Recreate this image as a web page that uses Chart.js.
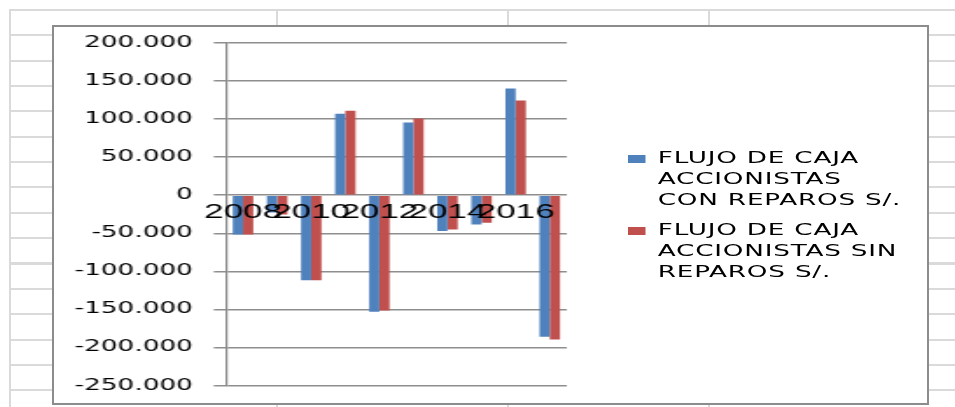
<!DOCTYPE html>
<html>
<head>
<meta charset="utf-8">
<script src="https://cdn.jsdelivr.net/npm/chart.js@4"></script>
<style>
  body { margin: 0; width: 955px; height: 407px; position: relative; overflow: hidden; background: #fff; }
  #sheet {
    position: absolute; left: 9px; top: 9px; right: 0; bottom: 0;
    background: repeating-linear-gradient(to bottom, #dadada 0 2px, transparent 2px 25.35px);
  }
  .col { position: absolute; top: 9px; bottom: 0; width: 2px; background: #dadada; }
  #frame {
    position: absolute; left: 52px; top: 25px; width: 877px; height: 380px;
    border: 2px solid #8c8c8c; box-sizing: border-box; background: #fff; overflow: hidden;
  }
  #stretch {
    position: absolute; left: 0; top: 0; width: 499px; height: 376px;
    transform: scaleX(1.75); transform-origin: 0 0;
  }
  #legend {
    position: absolute; left: 328px; top: 121px;
    font: 15px 'DejaVu Sans'; line-height: 21px; letter-spacing: 0.45px;
    color: #000; white-space: nowrap;
  }
  .item { position: relative; padding-left: 17px; margin-bottom: 9px; }
  .swatch { position: absolute; left: 0; top: 6.5px; width: 10px; height: 8px; }
</style>
</head>
<body>
<div id="sheet"></div>
<div class="col" style="left:9px"></div>
<div class="col" style="left:276px"></div>
<div class="col" style="left:507px"></div>
<div class="col" style="left:708px"></div>

<div id="frame">
  <div id="stretch">
    <canvas id="chart" width="499" height="376"></canvas>
    <div id="legend"></div>
  </div>
</div>

<script>
var years = ['2008', '2009', '2010', '2011', '2012', '2013', '2014', '2015', '2016', '2017'];
var conReparos = [-51500, -22700, -111500, 106800, -153000, 95400, -47200, -38500, 140000, -185800];
var sinReparos = [-51500, -25300, -111500, 110800, -151300, 100700, -45000, -36200, 124300, -189400];
var conName = ['FLUJO DE CAJA', 'ACCIONISTAS', 'CON REPAROS S/.'];
var sinName = ['FLUJO DE CAJA', 'ACCIONISTAS SIN', 'REPAROS S/.'];
var colors = ['#4F81BD', '#C0504D'];

// 200000 -> "200.000"
function fmt(v) {
  var s = Math.abs(v).toString().replace(/\B(?=(\d{3})+(?!\d))/g, '.');
  return (v < 0 ? '-' : '') + s;
}

var ctx = document.getElementById('chart');
var chart = new Chart(ctx, {
  type: 'bar',
  data: {
    labels: years,
    datasets: [{
      label: conName.join(' '),
      data: conReparos,
      backgroundColor: colors[0],
      categoryPercentage: 0.6,
      barPercentage: 1.0
    }, {
      label: sinName.join(' '),
      data: sinReparos,
      backgroundColor: colors[1],
      categoryPercentage: 0.6,
      barPercentage: 1.0
    }]
  },
  options: {
    responsive: false,
    animation: false,
    devicePixelRatio: 1,
    layout: { padding: { left: 0, top: 15.7, right: 206, bottom: 17.3 } },
    plugins: {
      legend: { display: false },
      tooltip: { enabled: false }
    },
    scales: {
      x: {
        position: { y: 0 },
        grid: { display: false, drawTicks: false },
        border: { display: false },
        ticks: {
          z: 1, // year labels sit on top of the bars
          autoSkip: false,
          maxRotation: 0,
          padding: 5.8,
          color: '#000',
          font: { family: "'Liberation Sans', sans-serif", size: 20 },
          callback: function(val, i) {
            return i % 2 === 0 ? this.getLabelForValue(val) : '';
          }
        }
      },
      y: {
        min: -250000,
        max: 200000,
        afterFit: function(scale) {
          scale.width = 98.3;
          // keep the plot area where the layout padding puts it
          scale.paddingTop = 0;
          scale.paddingBottom = 0;
        },
        grid: { color: '#8e8e8e', lineWidth: 1.5, tickLength: 7 },
        border: { color: '#8a8a8a', width: 1.2 },
        ticks: {
          stepSize: 50000,
          padding: 12,
          color: '#000',
          font: { family: "'DejaVu Sans', sans-serif", size: 15 },
          callback: function(v) { return fmt(v); }
        }
      }
    }
  }
});

// legend with the wrapped series names
var names = [conName, sinName];
var legend = document.getElementById('legend');
chart.data.datasets.forEach(function(ds, i) {
  var item = document.createElement('div');
  item.className = 'item';
  var sw = document.createElement('span');
  sw.className = 'swatch';
  sw.style.background = ds.backgroundColor;
  item.appendChild(sw);
  names[i].forEach(function(line) {
    var d = document.createElement('div');
    d.textContent = line;
    item.appendChild(d);
  });
  legend.appendChild(item);
});
</script>
</body>
</html>
